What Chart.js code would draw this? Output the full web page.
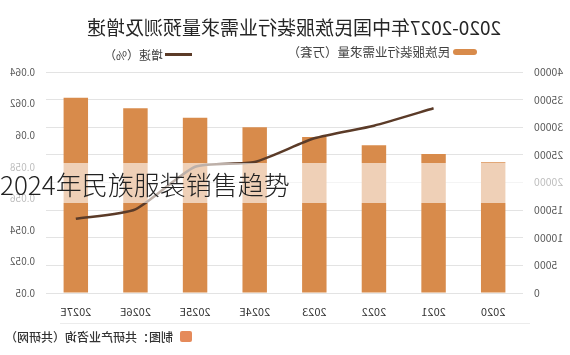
<!DOCTYPE html>
<html>
<head>
<meta charset="utf-8">
<script src="https://cdn.jsdelivr.net/npm/chart.js@4.4.1/dist/chart.umd.min.js"></script>
<style>
  html, body { margin: 0; padding: 0; background: #fff; }
  body { width: 570px; height: 355px; overflow: hidden; position: relative; font-family: "Noto Sans CJK SC", "Noto Sans", sans-serif; }
  #wrap { position: absolute; left: 0; top: 0; width: 570px; height: 355px; transform: scaleX(-1); }
  #c { position: absolute; left: 0; top: 0; }
  .abs { position: absolute; white-space: nowrap; }
  #title { left: 0; width: 552px; top: 13px; text-align: center; font-size: 19px; line-height: 28px; color: #262626; }
  #lg1sw { left: 93px; top: 49px; width: 24px; height: 6px; background: #D88B4B; border-radius: 3px; }
  #lg1tx { left: 120px; top: 44px; font-size: 12.5px; line-height: 16px; color: #404040; }
  #lg2sw { left: 378px; top: 53px; width: 27px; height: 3px; background: #5B3B28; }
  #lg2tx { left: 407px; top: 47px; font-size: 12px; line-height: 16px; color: #404040; }
  #sep { left: 40px; top: 323px; width: 470px; height: 1px; background: #ececec; }
  #srcicon { left: 378px; top: 331px; width: 12px; height: 11px; background: #E58A5A; border-radius: 2px; }
  #srctx { left: 397px; top: 328px; font-size: 12px; line-height: 17px; color: #333; font-weight: 500; }
  #band { position: absolute; left: 0; top: 163px; width: 570px; height: 40px; background: rgba(255,255,255,0.6); }
  #banner { position: absolute; left: 0; top: 164px; height: 40px; line-height: 40px; font-size: 26px; color: #222; font-weight: 300; white-space: nowrap; }
</style>
</head>
<body>
<div id="wrap">
  <canvas id="c" width="570" height="355"></canvas>
  <div class="abs" id="title">2020-2027年中国民族服装行业需求量预测及增速</div>
  <div class="abs" id="lg1sw"></div>
  <div class="abs" id="lg1tx">民族服装行业需求量（万套）</div>
  <div class="abs" id="lg2sw"></div>
  <div class="abs" id="lg2tx">增速（%）</div>
  <div class="abs" id="sep"></div>
  <div class="abs" id="srcicon"></div>
  <div class="abs" id="srctx">制图：共研产业咨询（共研网）</div>
</div>
<div id="band"></div>
<div id="banner">2024年民族服装销售趋势</div>
<script>
// ---- data ----
const categories = ['2020', '2021', '2022', '2023', '2024E', '2025E', '2026E', '2027E'];
const demandValues = [23650, 25160, 26730, 28240, 29990, 31730, 33430, 35350];
const growthValues = [null, 0.0617, 0.0606, 0.0598, 0.0583, 0.0580, 0.0553, 0.0547];
const demandTickLabels = ['0', '5000', '10000', '15000', '20000', '25000', '30000', '35000', '40000'];
const growthTickLabels = ['0.05', '0.052', '0.054', '0.056', '0.058', '0.06', '0.062', '0.064'];
const demandLabel = '民族服装行业需求量（万套）';
const growthLabel = '增速（%）';

Chart.defaults.font.family = "'Noto Sans CJK SC', 'Noto Sans', sans-serif";

new Chart(document.getElementById('c'), {
  data: {
    labels: categories,
    datasets: [
      {
        type: 'line',
        label: growthLabel,
        data: growthValues,
        yAxisID: 'y1',
        borderColor: '#5B3B28',
        borderWidth: 2.5,
        pointRadius: 0,
        tension: 0.2,
        order: 0
      },
      {
        type: 'bar',
        label: demandLabel,
        data: demandValues,
        yAxisID: 'y',
        backgroundColor: '#D88B4B',
        barPercentage: 0.41,
        categoryPercentage: 1.0,
        order: 1
      }
    ]
  },
  options: {
    responsive: false,
    animation: false,
    devicePixelRatio: 1,
    layout: { padding: { top: 72, bottom: 32, left: 0, right: 0 } },
    plugins: { legend: { display: false }, title: { display: false }, tooltip: { enabled: false } },
    scales: {
      x: {
        grid: { display: false, drawTicks: false },
        border: { display: false },
        ticks: { color: '#333', font: { size: 11 }, padding: 12, maxRotation: 0 },
        afterFit: (s) => { s.height = 30; }
      },
      y: {
        position: 'left',
        min: 0, max: 40000,
        grid: { color: '#e3e3e3', drawTicks: false },
        border: { display: false },
        ticks: {
          stepSize: 5000, color: '#595959', font: { size: 10.5 }, padding: 11,
          callback: (v, i) => demandTickLabels[i]
        },
        afterFit: (s) => { s.width = 47; }
      },
      y1: {
        position: 'right',
        min: 0.05, max: 0.064,
        grid: { display: false, drawTicks: false },
        border: { display: false },
        ticks: {
          stepSize: 0.002, color: '#595959', font: { size: 10 }, padding: 11,
          callback: (v, i) => growthTickLabels[i]
        },
        afterFit: (s) => { s.width = 46; }
      }
    }
  }
});
</script>
</body>
</html>
